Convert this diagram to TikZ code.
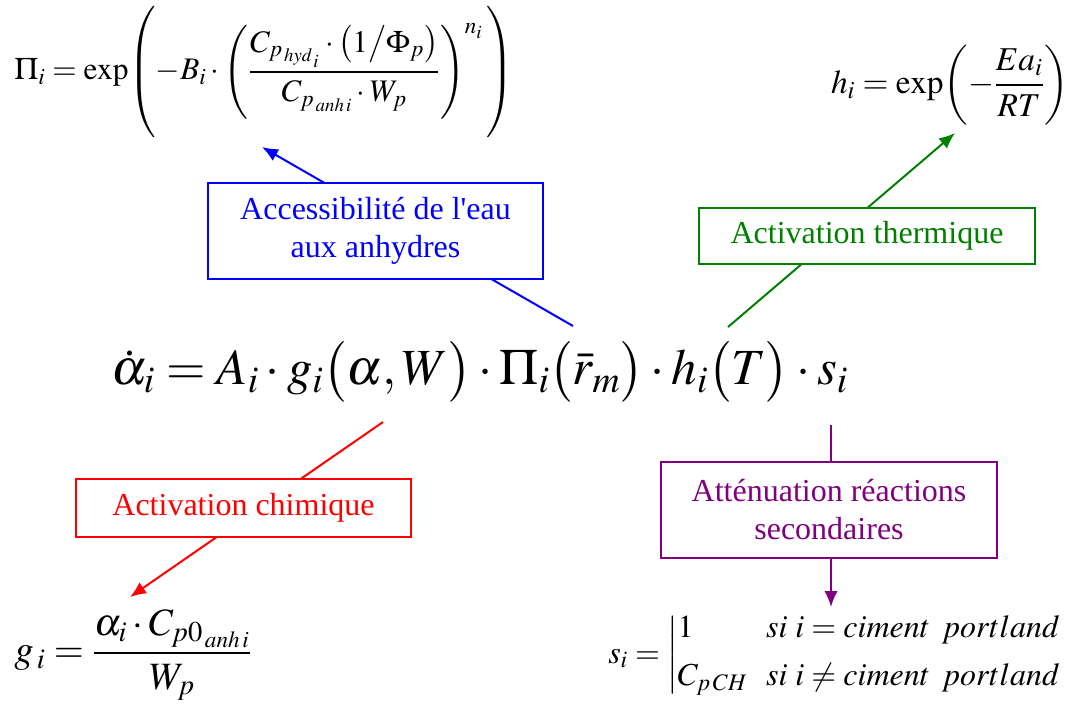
\documentclass[tikz,border=0pt]{standalone}
\usepackage{amsmath}
\usepackage{mathptmx}
\usepackage{fontspec}
\setmainfont{Liberation Serif}[Ligatures=TeXOff]
\usetikzlibrary{arrows.meta}
\definecolor{cblue}{RGB}{0,0,255}
\definecolor{cgreen}{RGB}{0,128,0}
\definecolor{cred}{RGB}{255,0,0}
\definecolor{cpurple}{RGB}{128,0,128}
\begin{document}
\begin{tikzpicture}[x=0.75pt,y=-0.75pt,
  lbox/.style={draw=#1,text=#1,fill=white,line width=1.5pt,align=center,inner sep=0pt,font=\fontsize{24}{28.5}\selectfont},
  conn/.style={draw=#1,line width=1.5pt},
  tip/.style={-{Latex[length=12pt,width=10pt]}},
  eqn/.style={inner sep=0pt,font=\fontsize{#1}{#1}\selectfont}]
\useasboundingbox (0,0) rectangle (1077,704);
% equations
\node[eqn=23.5,anchor=west] (pi) at (14,72)
  {$\Pi_{i}=\mathrm{exp}\!\left(-B_{i}\cdot\left(\dfrac{C_{p_{\,hyd_{\,i}}}\cdot\bigl(1\big/\Phi_{p}\bigr)}{C_{p_{\,anh\,i}}\cdot W_{p}}\right)^{n_{i}}\vphantom{\dfrac{\dfrac{A}{B}}{\dfrac{A}{B}}}\right)$};
\node[eqn=25,anchor=east] (h) at (1069,85)
  {$h_{i}=\mathrm{exp}\!\left(-\dfrac{Ea_{i}}{RT}\right)$};
\node[eqn=38] (main) at (480,372)
  {$\dot{\alpha}_{i}=A_{i}\cdot g_{i}\bigl(\alpha,W\bigr)\cdot\Pi_{i}\bigl(\bar{r}_{m}\bigr)\cdot h_{i}\bigl(T\bigr)\cdot s_{i}$};
\node[eqn=29,anchor=west] (g) at (14,655)
  {$g_{\,i}=\dfrac{\alpha_{i}\cdot C_{p0_{\,anh\,i}}}{W_{p}}$};
\node[eqn=24,anchor=west] (s) at (608,655)
  {$s_{i}=\left|\begin{array}{@{}l@{\hspace{14pt}}l@{}}1 & si\ i=ciment\ \,portland\\[12pt] C_{p\,CH} & si\ i\neq ciment\ \,portland\end{array}\right.$};
% connector end points
\coordinate (bs) at (573,326);
\coordinate (be) at (262,147);
\coordinate (gs) at (728,327);
\coordinate (ge) at (955,133);
\coordinate (rs) at (383,422);
\coordinate (re) at (130,597);
\coordinate (ps) at (831,425);
\coordinate (pe) at (831,607);
\draw[conn=cblue,tip] (bs) -- (be);
\draw[conn=cgreen,tip] (gs) -- (ge);
\draw[conn=cred,tip] (rs) -- (re);
\draw[conn=cpurple,tip] (ps) -- (pe);
% boxes
\node[lbox=cblue,minimum width=251pt,minimum height=72pt] (acc) at (375.5,231)
  {Accessibilité de l'eau\\aux anhydres};
\node[lbox=cgreen,minimum width=252pt,minimum height=42pt] (th) at (867,235.5)
  {Activation thermique};
\node[lbox=cred,minimum width=251pt,minimum height=43pt] (ch) at (243.5,508)
  {Activation chimique};
\node[lbox=cpurple,minimum width=252pt,minimum height=72pt] (att) at (829,510)
  {Atténuation réactions\\secondaires};
\end{tikzpicture}
\end{document}
